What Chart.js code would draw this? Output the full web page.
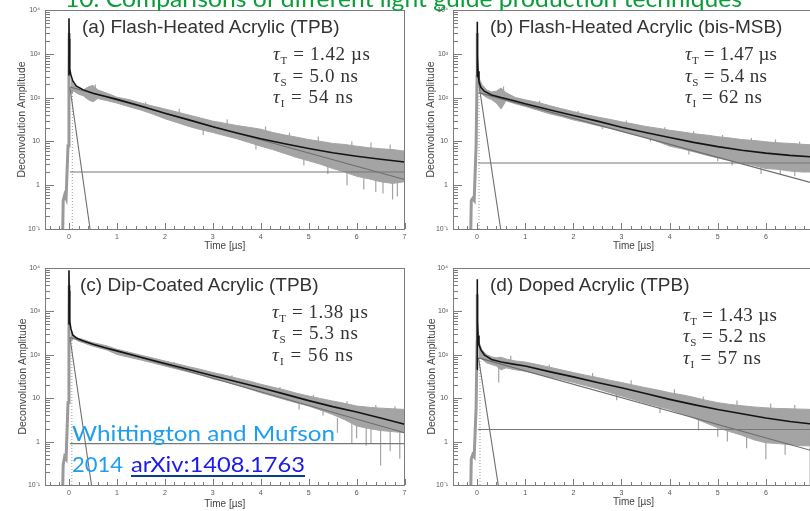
<!DOCTYPE html>
<html><head><meta charset="utf-8">
<script src="https://cdn.jsdelivr.net/npm/chart.js@4.4.1/dist/chart.umd.min.js"></script>
<style>
html,body{margin:0;padding:0;width:810px;height:511px;overflow:hidden;background:#fff}
body{position:relative}
canvas{position:absolute}
#ov{position:absolute;left:0;top:0;pointer-events:none}
</style></head><body>
<canvas id="cA" width="410" height="256" style="left:0;top:0"></canvas>
<canvas id="cB" width="415" height="256" style="left:405px;top:0"></canvas>
<canvas id="cC" width="410" height="255" style="left:0;top:256px"></canvas>
<canvas id="cD" width="415" height="255" style="left:405px;top:256px"></canvas>
<svg id="ov" width="810" height="511" xmlns="http://www.w3.org/2000/svg"></svg>
<script>
// ---------- DATA ----------
const panelTitles = ['(a) Flash-Heated Acrylic (TPB)','(b) Flash-Heated Acrylic (bis-MSB)','(c) Dip-Coated Acrylic (TPB)','(d) Doped Acrylic (TPB)'];
const tauT = ['1.42','1.47','1.38','1.43'];   // µs
const tauS = ['5.0','5.4','5.3','5.2'];       // ns
const tauI = ['54','62','56','57'];           // ns

const yTickValues = [0.1, 1, 10, 100, 1000, 10000];
const yTickLabels = ['10\u207B\u00B9','1','10','10\u00B2','10\u00B3','10\u2074'];
const xTickValues = [0,1,2,3,4,5,6,7];
const xTickLabels = ['0','1','2','3','4','5','6','7'];

// noisy data envelope (upper / lower) sampled at bandT [µs]
const bandT = [0.04,0.1,0.2,0.3,0.4,0.5,0.6,0.8,1.0,1.25,1.5,1.75,2.0,2.25,2.5,2.75,3.0,3.25,3.5,3.75,4.0,4.25,4.5,4.75,5.0,5.25,5.5,5.75,6.0,6.25,6.5,6.75,7.0];
const hiA = [260,190,170,150,175,190,150,125,102,90,75,64,55,47,40,34,29,26,23,21,19,16,14,12.5,11,10,9,8.5,7.8,7.2,6.8,6.5,6];
const loA = [120,140,120,110,90,80,95,85,75,62,52,42,33,27,22,18.5,16,13.5,11.5,9.5,7.8,6.5,5.3,4.3,3.6,3.0,2.4,2.0,1.6,1.4,1.2,1.1,1.2];
const hiB = [280,200,150,135,140,165,130,100,89,78,66,56,48,41,36,32,28,25,22,20,18,16.5,15,14,12.8,12,11,10.5,9.8,9.3,9,8.6,8.3];
const loB = [150,120,100,90,75,55,85,72,63,52,43,37,31,27,23,20,17,14.5,12.5,10,7.8,6.8,5.8,4.9,4.2,3.7,3.2,2.8,2.4,2.3,2.1,2.0,2.0];
const hiC = [330,280,240,225,205,190,180,160,134,115,98,84,72,62,53,46,39,34,29,25,21,18,15.5,13,11.2,9.8,8.6,7.6,6.6,6.2,5.9,5.7,5.5];
const loC = [200,240,205,190,172,158,148,128,102,88,76,65,55,47,40,34,28,24,20,16.5,13.4,11.2,9.3,7.8,6.6,5.3,4.2,3.2,2.3,2.0,1.8,1.7,1.6];
const hiD = [200,130,100,90,85,88,80,72,68,60,52,45,39,34,30,26,23,20,17.5,15.5,13.4,12,10.5,9,7.9,7.2,6.7,6.3,6,5.8,5.7,5.6,5.5];
const loD = [90,80,65,60,55,45,50,45,42,36,31,27,23,19.5,16.5,13.5,11.2,9.3,7.7,6.5,5.5,4.4,3.5,2.7,2.1,1.7,1.4,1.1,0.94,0.9,0.85,0.8,0.8];

// isolated noise spikes: time, top, bottom
const spkTA  = [5.8,6.15,6.4,6.55,6.75,6.85, 0.55,1.6,2.3,3.3,4.1,4.6,5.2,5.9,6.3,6.7, 2.8,3.9,4.9,5.4];
const spkHiA = [2.2,1.8,1.6,1.5,1.4,1.4,     200,78,56,32,22,16,13,10,9.5,8.5,       25,13,7,5];
const spkLoA = [1.0,0.8,0.7,0.65,0.47,0.55,  120,60,40,22,14,10,8,6,5,4,             14,6.5,2.8,1.8];
const spkTB  = [5.3,5.9,6.3,6.6, 0.55,1.3,2.1,3.1,3.9,4.5,5.1,5.7,6.2,6.7, 2.6,3.6,4.4,5.0];
const spkHiB = [4,3.5,3,2.8,     180,85,50,30,21,17,14,12,11,10,            28,16,9,7];
const spkLoB = [2.8,1.8,1.7,1.6, 110,65,38,20,13,11,8,7,6,5,                19,10,5,3.5];
const spkTC  = [5.6,5.9,6.2,6.5,6.7,6.9, 1.4,2.2,3.4,4.4,5.1,5.8,6.4,6.8, 4.8,5.3,6.0,6.3];
const spkHiC = [3.5,2.8,2.4,2.2,2,1.8,   105,68,34,18,12,8.5,7,6.5,        10,8,5,4];
const spkLoC = [1.6,0.9,0.8,0.28,0.6,0.4, 90,58,27,14,8,5,4,3.5,           5.5,4,1.2,0.9];
const spkTD  = [0.45,5.2,5.6,6.0,6.4,6.92, 0.7,1.5,2.4,3.2,4.1,4.7,5.4,6.1,6.6, 2.9,3.8,4.6,5.0];
const spkHiD = [60,3,2.5,2,1.5,3,          95,60,38,26,16,11,8.8,7.5,7,        18,9.5,5,3.5];
const spkLoD = [23,1.0,0.7,0.39,0.5,0.1,   60,45,25,16,9,6,4.5,3,3,            9,4.5,1.8,1.3];

// rising edge of the data before t0
const riseT = [-0.13,-0.12,-0.09,-0.06,-0.02,0,0.005];
const riseYA = [0.1,0.45,0.6,0.5,8,300,3000];
const riseYB = [0.1,0.45,0.5,0.45,8,300,3000];
const riseYC = [0.1,0.3,0.45,0.4,8,400,4000];
const riseYD = [0.1,0.4,0.5,0.45,6,200,2500];
// dotted response line
const dotTA = [0.07,0.07]; const dotYA = [0.1,160];
const dotTB = [0.04,0.04]; const dotYB = [0.1,230];
const dotTC = [0.06,0.06]; const dotYC = [0.1,240];
const dotTD = [0.06,0.06]; const dotYD = [0.1,85];

// total fit (black)
const fitT  = [0,0,0.005,0.01,0.02,0.04,0.08,0.15,0.3,0.5,0.75,1,1.5,2,2.5,3,3.5,4,4.5,5,5.5,6,6.5,7];
const fitYA = [320,6500,2200,900,450,330,240,185,150,125,107,91,64,44,31,21.5,15.5,11.5,8.8,6.9,5.5,4.6,3.9,3.4];
const fitYB = [300,5400,2000,900,400,230,170,140,115,100,86,72,53,39,29,21,16,12.3,9.5,7.6,6.3,5.4,4.8,4.4];
const fitYC = [500,8900,3000,1300,600,400,285,245,209,174,145,123,88,63,46,33,24,17.4,12.4,8.8,6.4,4.8,3.5,2.5];
const fitYD = [46,5500,1500,600,280,170,130,100,78,68,61,55,41,31,23,17.4,12.8,9.4,7.1,5.5,4.4,3.5,2.9,2.5];

// fit components: triplet, intermediate (start/end), constant background
const tripTA = [0.02,7];  const tripYA = [174,1.35];
const tripTB = [0.03,7];  const tripYB = [130,1.1];
const tripTC = [0.02,7];  const tripYC = [250,1.6];
const tripTD = [0.03,7];  const tripYD = [85,0.6];
const intTA = [0.02,0.44]; const intYA = [170,0.1];
const intTB = [0.03,0.49]; const intYB = [230,0.1];
const intTC = [0.02,0.47]; const intYC = [250,0.1];
const intTD = [0.03,0.44]; const intYD = [85,0.1];
const bgT = [0.02,7];
const bgA = [2.0,2.0]; const bgB = [3.2,3.2]; const bgC = [0.9,0.9]; const bgD = [1.9,1.9];

// ---------- helpers ----------
const pts = (xs, ys) => xs.map((x,i) => ({x, y: ys[i]}));
function spikes(ts, hs, ls){ const o=[]; ts.forEach((t,i)=>{o.push({x:t,y:hs[i]},{x:t,y:ls[i]},{x:t,y:null});}); return o; }

const GRAY = '#a4a4a4';
const frame = {
  id:'frame',
  afterDraw(chart){
    const {ctx, chartArea:a, scales:{x,y}} = chart;
    ctx.save();
    ctx.strokeStyle = '#7c7c7c'; ctx.lineWidth = 1;
    ctx.strokeRect(Math.round(a.left)+0.5, Math.round(a.top)+0.5, Math.round(a.right-a.left)-1, Math.round(a.bottom-a.top));
    ctx.beginPath();
    y.ticks.forEach(t=>{
      const py = Math.round(y.getPixelForValue(t.value))+0.5;
      const major = yTickValues.some(v=>Math.abs(v-t.value)<1e-9);
      ctx.moveTo(a.left, py); ctx.lineTo(a.left+(major?9:5), py);
    });
    x.ticks.forEach(t=>{
      const px = Math.round(x.getPixelForValue(t.value))+0.5;
      const major = Math.abs(t.value-Math.round(t.value))<1e-6;
      ctx.moveTo(px, a.bottom); ctx.lineTo(px, a.bottom-(major?6:3));
    });
    ctx.stroke();
    ctx.restore();
  }
};

const geo = [
  {id:'cA', padTop:10, padRight:4, yW:45, xH:27, yTP:15.5, xTP:4},
  {id:'cB', padTop:10, padRight:6, yW:48, xH:27, yTP:20,   xTP:3.5},
  {id:'cC', padTop:12, padRight:4, yW:45, xH:26, yTP:16.5, xTP:1},
  {id:'cD', padTop:12, padRight:6, yW:48, xH:26, yTP:21,   xTP:3},
];
const series = [
  {hi:hiA, lo:loA, sT:spkTA, sH:spkHiA, sL:spkLoA, rY:riseYA, dT:dotTA, dY:dotYA, fY:fitYA, tT:tripTA, tY:tripYA, iT:intTA, iY:intYA, bg:bgA},
  {hi:hiB, lo:loB, sT:spkTB, sH:spkHiB, sL:spkLoB, rY:riseYB, dT:dotTB, dY:dotYB, fY:fitYB, tT:tripTB, tY:tripYB, iT:intTB, iY:intYB, bg:bgB},
  {hi:hiC, lo:loC, sT:spkTC, sH:spkHiC, sL:spkLoC, rY:riseYC, dT:dotTC, dY:dotYC, fY:fitYC, tT:tripTC, tY:tripYC, iT:intTC, iY:intYC, bg:bgC},
  {hi:hiD, lo:loD, sT:spkTD, sH:spkHiD, sL:spkLoD, rY:riseYD, dT:dotTD, dY:dotYD, fY:fitYD, tT:tripTD, tY:tripYD, iT:intTD, iY:intYD, bg:bgD},
];

const xTickPos = []; for (let i=-2;i<=35;i++) xTickPos.push(i/5);
const yTickPos = []; for (let e=-1;e<=3;e++){ for(let m=1;m<=9;m++) yTickPos.push(m*Math.pow(10,e)); } yTickPos.push(10000);

const base = {pointRadius:0, tension:0, fill:false, spanGaps:false};
const FONT = 'Liberation Sans, Arial, sans-serif';

geo.forEach((g, k) => {
  const s = series[k];
  const datasets = [
    {...base, data: pts(bandT, s.hi), borderColor:GRAY, borderWidth:1, order:5},
    {...base, data: pts(bandT, s.lo), borderColor:GRAY, borderWidth:1, backgroundColor:GRAY, fill:'-1', order:5},
    {...base, data: spikes(s.sT, s.sH, s.sL), borderColor:GRAY, borderWidth:1.2, order:4},
    {...base, data: pts(riseT, s.rY), borderColor:'#9a9a9a', borderWidth:3, order:3},
    {...base, data: pts(s.dT, s.dY), borderColor:'#9a9a9a', borderWidth:1, borderDash:[1,2], order:2},
    {...base, data: pts(bgT, s.bg), borderColor:'#777', borderWidth:1.1, order:1},
    {...base, data: pts(s.tT, s.tY), borderColor:'#6e6e6e', borderWidth:1.1, order:1},
    {...base, data: pts(s.iT, s.iY), borderColor:'#6e6e6e', borderWidth:1.1, order:1},
    {...base, data: pts(fitT, s.fY), borderColor:'#141414', borderWidth:1.6, order:0},
  ];
  new Chart(document.getElementById(g.id), {
    type:'line',
    data:{datasets},
    options:{
      responsive:false, animation:false, events:[],
      layout:{padding:{top:g.padTop, right:g.padRight, left:0, bottom:0}},
      plugins:{legend:{display:false}, tooltip:{enabled:false}, title:{display:false}},
      scales:{
        x:{
          type:'linear', min:-0.5, max:7,
          afterFit:sc=>{sc.height=g.xH;},
          afterBuildTicks:sc=>{sc.ticks = xTickPos.map(v=>({value:v}));},
          grid:{display:false, drawTicks:false}, border:{display:false},
          ticks:{autoSkip:false, maxRotation:0, padding:3.5, color:'#555', font:{family:FONT, size:7},
            callback:(v)=>{ const i = xTickValues.findIndex(t=>Math.abs(t-v)<1e-6); return i>=0 ? xTickLabels[i] : ''; }},
          title:{display:true, text:'Time [\u00B5s]', color:'#444', font:{family:FONT, size:10}, padding:{top:0, bottom:g.xTP}}
        },
        y:{
          type:'logarithmic', min:0.1, max:10000,
          afterFit:sc=>{sc.width=g.yW;},
          afterBuildTicks:sc=>{sc.ticks = yTickPos.map(v=>({value:v}));},
          grid:{display:false, drawTicks:false}, border:{display:false},
          ticks:{autoSkip:false, padding:5, color:'#555', font:{family:FONT, size:7},
            callback:(v)=>{ const i = yTickValues.findIndex(t=>Math.abs(t-v)/t<1e-6); return i>=0 ? yTickLabels[i] : ''; }},
          title:{display:true, text:'Deconvolution Amplitude', color:'#444', font:{family:FONT, size:10.5}, padding:{top:g.yTP, bottom:0}}
        }
      }
    },
    plugins:[frame]
  });
});

// ---------- text overlay ----------
const NS = 'http://www.w3.org/2000/svg';
const ov = document.getElementById('ov');
function txt(parent, x, y, attrs, content){
  const t = document.createElementNS(NS,'text');
  t.setAttribute('x',x); t.setAttribute('y',y);
  for (const k in attrs) t.setAttribute(k, attrs[k]);
  if (content!==undefined) t.textContent = content;
  parent.appendChild(t); return t;
}
const titlePos = [[82,33],[490,33],[80,291],[490,291]];
panelTitles.forEach((s,i)=>txt(ov, titlePos[i][0], titlePos[i][1], {'font-family':FONT,'font-size':19,fill:'#333'}, s));

const tauPos = [[273,[60,82,103]],[685,[60,82,103]],[272,[318,339,361]],[683,[321,342,364]]];
const tauW = [[97,85,80],[92,82,77],[96,86,81],[94,83,78]];
function tauLine(x, y, w, sub, rest){
  const t = txt(ov, x, y, {'font-family':'Liberation Serif, Times New Roman, serif','font-size':19,fill:'#333',textLength:w,lengthAdjust:'spacing'});
  const g = document.createElementNS(NS,'tspan'); g.setAttribute('font-style','italic'); g.textContent = '\u03C4'; t.appendChild(g);
  const a = document.createElementNS(NS,'tspan'); a.setAttribute('font-size',11); a.setAttribute('dy',4); a.textContent = sub; t.appendChild(a);
  const b = document.createElementNS(NS,'tspan'); b.setAttribute('dy',-4); b.textContent = rest; t.appendChild(b);
}
tauPos.forEach((p,i)=>{
  tauLine(p[0], p[1][0], tauW[i][0], 'T', ' = '+tauT[i]+' \u00B5s');
  tauLine(p[0], p[1][1], tauW[i][1], 'S', ' = '+tauS[i]+' ns');
  tauLine(p[0], p[1][2], tauW[i][2], 'I', ' = '+tauI[i]+' ns');
});

// slide overlays
txt(ov, 65, 6.5, {'font-family':'Lato, Open Sans, sans-serif','font-size':24,fill:'#0a9e3a',textLength:677,lengthAdjust:'spacingAndGlyphs'}, '10. Comparisons of different light guide production techniques');
txt(ov, 72, 441, {'font-family':'Lato, Open Sans, sans-serif','font-size':22,fill:'#1e9ef0',textLength:263,lengthAdjust:'spacingAndGlyphs'}, 'Whittington and Mufson');
txt(ov, 72, 472, {'font-family':'Lato, Open Sans, sans-serif','font-size':22,fill:'#1e9ef0'}, '2014');
txt(ov, 131, 472, {'font-family':'Lato, Open Sans, sans-serif','font-size':22,fill:'#1c1ce6',textLength:174,lengthAdjust:'spacingAndGlyphs'}, 'arXiv:1408.1763');
const ul = document.createElementNS(NS,'rect');
ul.setAttribute('x',131); ul.setAttribute('y',475); ul.setAttribute('width',174); ul.setAttribute('height',2); ul.setAttribute('fill','#0b3d91');
ov.appendChild(ul);
</script>
</body></html>
